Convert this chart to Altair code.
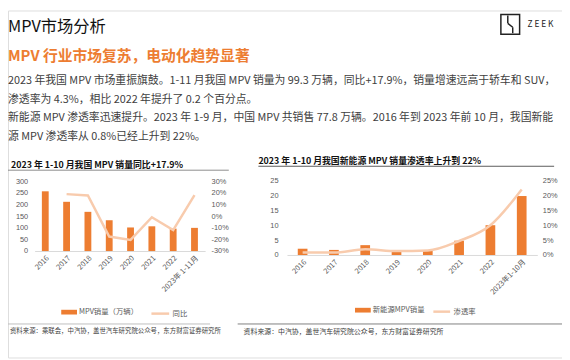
import altair as alt
import pandas as pd

FONT = "Noto Sans CJK SC"
ORANGE = "#ED7D31"
PEACH = "#F8CBAD"
AXIS_GRAY = "#595959"

# ---------------- data ----------------
years = ["2016", "2017", "2018", "2019", "2020", "2021", "2022"]
left_cats = years + ["2023年 1-11月"]
right_cats = years + ["2023年1-10月"]
mpv_sales = [256, 211, 168, 132, 101, 106, 96, 99.3]          # 万辆
mpv_yoy = [None, 18.8, 17.6, -17.6, -20.5, -1.0, -12.0, 17.9]  # %
nev_sales = [2.1, 1.7, 3.3, 1.1, 1.5, 4.8, 10.0, 19.8]        # 万辆
nev_pen = [0.8, 0.8, 1.9, 1.3, 1.5, 4.7, 10.0, 22.0]           # %

page_title = "MPV市场分析"
headline = "MPV 行业市场复苏，电动化趋势显著"
body_lines = [
    "2023 年我国 MPV 市场重振旗鼓。1-11 月我国 MPV 销量为 99.3 万辆，同比+17.9%，销量增速远高于轿车和 SUV，",
    "渗透率为 4.3%，相比 2022 年提升了 0.2 个百分点。",
    "新能源 MPV 渗透率迅速提升。2023 年 1-9 月，中国 MPV 共销售 77.8 万辆。2016 年到 2023 年前 10 月，我国新能",
    "源 MPV 渗透率从 0.8%已经上升到 22%。",
]
left_title = "2023 年 1-10 月我国 MPV 销量同比+17.9%"
right_title = "2023 年 1-10 月我国新能源 MPV 销量渗透率上升到 22%"
left_source = "资料来源：乘联会，中汽协，盖世汽车研究院公众号，东方财富证券研究所"
right_source = "资料来源：中汽协，盖世汽车研究院公众号，东方财富证券研究所"
left_names = ["MPV销量（万辆）", "同比"]
right_names = ["新能源MPV销量", "渗透率"]
logo_text = "Z E E K"

W, H = 562, 352
one = pd.DataFrame({"a": [0]})


def txt(s, x, y, size, color="#404040", weight="normal", align="left"):
    return alt.Chart(pd.DataFrame({"t": [s]})).mark_text(
        align=align, baseline="middle", fontSize=size, font=FONT,
        fontWeight=weight, color=color
    ).encode(x=alt.value(x), y=alt.value(y), text="t:N")


def seg(x1, y1, x2, y2, color, width=1.0):
    return alt.Chart(one).mark_rule(color=color, strokeWidth=width).encode(
        x=alt.value(x1), x2=alt.value(x2), y=alt.value(y1), y2=alt.value(y2))


def bar_legend(x, y):
    return alt.Legend(orient="none", legendX=x, legendY=y, title=None,
                      symbolType="M-1,-0.3L1,-0.3L1,0.3L-1,0.3Z", symbolSize=256,
                      symbolStrokeWidth=0, labelFontSize=7.5, labelColor=AXIS_GRAY,
                      labelFont=FONT, labelOffset=2, padding=0)


def line_legend(x, y, size):
    return alt.Legend(orient="none", legendX=x, legendY=y, title=None,
                      symbolType="stroke", symbolSize=size, symbolStrokeWidth=2.5,
                      labelFontSize=7.5, labelColor=AXIS_GRAY, labelFont=FONT,
                      labelOffset=2, padding=0)


def y_axis(orient, offset, values, expr=None):
    kw = dict(orient=orient, offset=offset, values=values, domain=False, ticks=False,
              grid=False, labelPadding=2, labelFontSize=7.5, labelColor=AXIS_GRAY,
              labelFont="Liberation Sans", title=None)
    if expr:
        kw["labelExpr"] = expr
    return alt.Axis(**kw)


def x_axis(offset):
    return alt.Axis(orient="bottom", offset=offset, labelAngle=-45, domainColor="#D9D9D9",
                    ticks=False, grid=False, labelFontSize=7.5, labelColor=AXIS_GRAY,
                    labelFont=FONT, labelPadding=3, title=None)


# ---------------- left chart ----------------
ldf = pd.DataFrame({"cat": left_cats, "sales": mpv_sales, "yoy": mpv_yoy})
L_RANGE = [27, 200]
L_Y = [244, 173]

left_bar = alt.Chart(ldf).transform_calculate(s=f"'{left_names[0]}'").mark_bar().encode(
    x=alt.X("cat:N", sort=left_cats,
            scale=alt.Scale(domain=left_cats, range=L_RANGE, paddingInner=0.68, paddingOuter=0.34),
            axis=x_axis(L_Y[0] - H)),
    y=alt.Y("sales:Q", scale=alt.Scale(domain=[0, 300], range=L_Y, nice=False),
            axis=y_axis("left", -22, [0, 50, 100, 150, 200, 250, 300])),
    color=alt.Color("s:N", scale=alt.Scale(domain=[left_names[0]], range=[ORANGE]),
                    legend=bar_legend(54, 298)),
)

left_line = alt.Chart(ldf).transform_calculate(s=f"'{left_names[1]}'").mark_line(strokeWidth=2.5).encode(
    x=alt.X("cat:N", sort=left_cats,
            scale=alt.Scale(type="point", domain=left_cats, range=L_RANGE, padding=0.5),
            axis=None),
    y=alt.Y("yoy:Q", scale=alt.Scale(domain=[-30, 30], range=L_Y, nice=False, zero=False),
            axis=y_axis("right", 204 - W, [-30, -20, -10, 0, 10, 20, 30], "datum.value + '%'")),
    color=alt.Color("s:N", scale=alt.Scale(domain=[left_names[1]], range=[PEACH]),
                    legend=line_legend(144, 297, 324)),
)

# ---------------- right chart ----------------
rdf = pd.DataFrame({"cat": right_cats, "sales": nev_sales, "pen": nev_pen})
R_RANGE = [283, 537]
R_Y = [248, 172.5]

right_bar = alt.Chart(rdf).transform_calculate(s=f"'{right_names[0]}'").mark_bar().encode(
    x=alt.X("cat:N", sort=right_cats,
            scale=alt.Scale(domain=right_cats, range=R_RANGE, paddingInner=0.69, paddingOuter=0.345),
            axis=x_axis(R_Y[0] - H)),
    y=alt.Y("sales:Q", scale=alt.Scale(domain=[0, 25], range=R_Y, nice=False),
            axis=y_axis("left", -276, [0, 5, 10, 15, 20, 25])),
    color=alt.Color("s:N", scale=alt.Scale(domain=[right_names[0]], range=[ORANGE]),
                    legend=bar_legend(352, 296)),
)

right_line = alt.Chart(rdf).transform_calculate(s=f"'{right_names[1]}'").mark_line(
    strokeWidth=2.5, interpolate="monotone").encode(
    x=alt.X("cat:N", sort=right_cats,
            scale=alt.Scale(type="point", domain=right_cats, range=R_RANGE, padding=0.5),
            axis=None),
    y=alt.Y("pen:Q", scale=alt.Scale(domain=[0, 25], range=R_Y, nice=False),
            axis=y_axis("right", 540 - W, [0, 5, 10, 15, 20, 25], "datum.value + '%'")),
    color=alt.Color("s:N", scale=alt.Scale(domain=[right_names[1]], range=[PEACH]),
                    legend=line_legend(430, 295.5, 289)),
)

# ---------------- header / decorations ----------------
logo_box = alt.Chart(one).mark_rect(fillOpacity=0, stroke="#222222", strokeWidth=1.5).encode(
    x=alt.value(500), x2=alt.value(519), y=alt.value(4), y2=alt.value(24))

layers = [
    txt(page_title, 0, 17, 16.5, color="#111111"),
    logo_box,
    seg(507, 5, 507, 13, "#222222", 1.5),
    seg(507, 13, 512, 17, "#222222", 1.5),
    seg(512, 17, 512, 23, "#222222", 1.5),
    txt(logo_text, 527, 14, 8.5, color="#222222"),
    txt(headline, 0, 46, 15, color=ORANGE, weight="bold"),
    txt(body_lines[0], 0, 71.3, 11),
    txt(body_lines[1], 0, 90.7, 11),
    txt(body_lines[2], 0, 109.3, 11),
    txt(body_lines[3], 0, 128, 11),
    txt(left_title, 3, 156.5, 9, color="#111111", weight="bold"),
    seg(0, 162, 224, 162, "#8C8C8C"),
    txt(right_title, 254, 152.7, 9, color="#111111", weight="bold"),
    seg(254, 158, 554, 158, "#595959"),
    seg(0, 318, 205, 318, "#BFBFBF"),
    txt(left_source, 2, 325, 6.5, color="#404040"),
    seg(233, 318, 562, 318, "#7F7F7F"),
    txt(right_source, 239, 326, 7, color="#404040"),
    left_bar, left_line, right_bar, right_line,
]

chart = alt.layer(*layers).resolve_scale(
    x="independent", y="independent", color="independent"
).resolve_legend(color="independent").properties(
    width=W, height=H, autosize=alt.AutoSizeParams(type="none"), padding=0
).configure_view(stroke=None).configure(font=FONT)

chart.save("out.html", embed_options={"renderer": "svg", "actions": False})
